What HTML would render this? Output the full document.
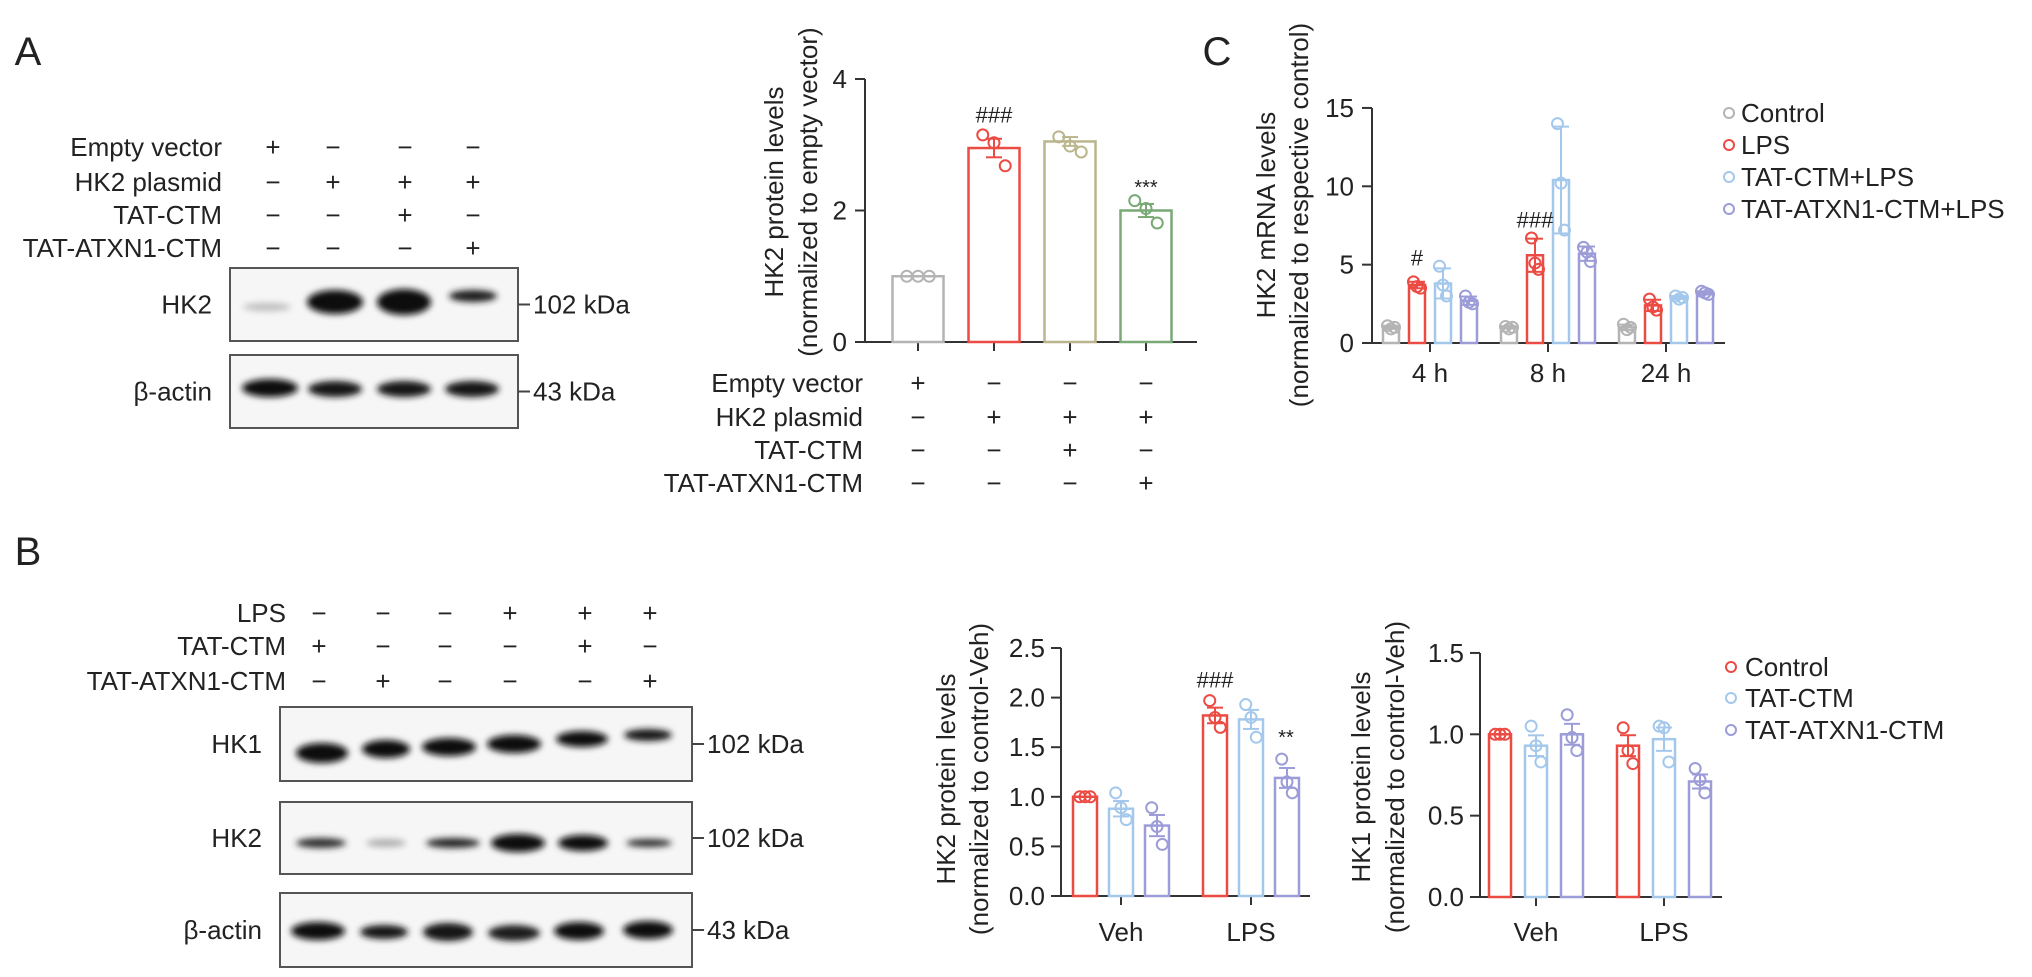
<!DOCTYPE html>
<html><head><meta charset="utf-8"><title>HK2 figure</title>
<style>
html,body{margin:0;padding:0;background:#fff;}
svg{display:block;font-family:"Liberation Sans",Arial,sans-serif;}
text{fill:#222;}
</style></head>
<body>
<svg id="fig" width="2032" height="977" viewBox="0 0 2032 977" xmlns="http://www.w3.org/2000/svg">
<defs>
<filter id="blur" x="-30%" y="-100%" width="160%" height="300%"><feGaussianBlur stdDeviation="3.2"/></filter>
</defs>
</svg>
<script>
// ---------- Panel A data ----------
const aCategories = ["Empty vector", "HK2 plasmid", "HK2+TAT-CTM", "HK2+TAT-ATXN1-CTM"];
const aMeans = [1.0, 2.95, 3.05, 2.0];
const aPoints = [[1.0, 1.0, 1.0], [3.15, 3.03, 2.68], [3.12, 2.98, 2.89], [2.15, 2.03, 1.81]];
const aTicks = [0, 2, 4];
const aColors = ["#b4b4b4", "#ec4b44", "#bab58c", "#79a975"];
// ---------- Panel C data ----------
const cGroups = ["4 h", "8 h", "24 h"];
const cSeries = ["Control", "LPS", "TAT-CTM+LPS", "TAT-ATXN1-CTM+LPS"];
const cControl = [1.0, 1.0, 1.0];
const cLPS = [3.7, 5.6, 2.4];
const cTAT = [3.8, 10.4, 2.9];
const cATXN1 = [2.7, 5.7, 3.2];
const cControlPts = [[1.1, 0.9, 1.0], [1.05, 0.9, 1.0], [1.2, 0.85, 1.0]];
const cLPSPts = [[3.9, 3.6, 3.5], [6.7, 5.1, 4.7], [2.8, 2.3, 2.1]];
const cTATPts = [[4.9, 3.7, 3.0], [14.0, 10.2, 7.2], [3.0, 2.8, 2.9]];
const cATXN1Pts = [[3.0, 2.6, 2.5], [6.1, 5.8, 5.2], [3.3, 3.2, 3.1]];
const cTicks = [0, 5, 10, 15];
const cColors = ["#b4b4b4", "#ec4b44", "#a4c8ec", "#9c9cd8"];
// ---------- Panel B data ----------
const bGroups = ["Veh", "LPS"];
const bSeries = ["Control", "TAT-CTM", "TAT-ATXN1-CTM"];
const hk2Means = [[1.0, 0.88, 0.71], [1.82, 1.78, 1.19]];
const hk2Pts = [[[1.0, 1.0, 1.0], [1.04, 0.89, 0.77], [0.89, 0.70, 0.52]], [[1.97, 1.80, 1.70], [1.93, 1.80, 1.60], [1.38, 1.15, 1.04]]];
const hk2Ticks = ["0.0", "0.5", "1.0", "1.5", "2.0", "2.5"];
const hk1Means = [[1.0, 0.93, 1.0], [0.93, 0.97, 0.71]];
const hk1Pts = [[[1.0, 1.0, 1.0], [1.05, 0.93, 0.83], [1.12, 0.98, 0.90]], [[1.04, 0.90, 0.82], [1.05, 1.04, 0.83], [0.79, 0.72, 0.64]]];
const hk1Ticks = ["0.0", "0.5", "1.0", "1.5"];
const bColors = ["#ec4b44", "#a4c8ec", "#9c9cd8"];

const svg = document.getElementById('fig');
const NS = 'http://www.w3.org/2000/svg';
function mk(tag, attrs, name, parent) {
  const el = document.createElementNS(NS, tag);
  for (const k in attrs) el.setAttribute(k, attrs[k]);
  
  
  (parent || svg).appendChild(el);
  return el;
}
function txt(s, x, y, name, opts) {
  opts = opts || {};
  const el = mk('text', {x: x, y: y, 'font-size': opts.size || 26, 'text-anchor': opts.anchor || 'start', 'dominant-baseline': 'central'}, name, opts.parent);
  if (opts.rot) el.setAttribute('transform', 'rotate(-90 ' + x + ' ' + y + ')');
  if (opts.fill) el.setAttribute('style', 'fill:' + opts.fill);
  el.textContent = s;
  return el;
}
function line(x1, y1, x2, y2, name, color, w, parent) {
  return mk('line', {x1: x1, y1: y1, x2: x2, y2: y2, stroke: color || '#333', 'stroke-width': w || 2}, name, parent);
}
function mean(a) { return a.reduce((s, v) => s + v, 0) / a.length; }
function sd(a) { const m = mean(a); return Math.sqrt(a.reduce((s, v) => s + (v - m) * (v - m), 0) / (a.length - 1)); }
function sem(a) { return sd(a) / Math.sqrt(a.length); }

function drawBar(g, cx, w, v, pts, err, color, yf, name) {
  const y0 = yf(0), yt = yf(v);
  mk('rect', {x: cx - w / 2, y: yt, width: w, height: y0 - yt, fill: '#fff', stroke: color, 'stroke-width': 2.5}, name, g);
  const offs = [-0.22, 0, 0.22];
  pts.forEach((p, i) => {
    mk('circle', {cx: cx + offs[i] * w, cy: yf(p), r: 5.5, fill: 'none', stroke: color, 'stroke-width': 2}, name + '-point', g);
  });
  line(cx, yf(v - err), cx, yf(v + err), name + '-error', color, 2, g);
  line(cx - 8, yf(v + err), cx + 8, yf(v + err), name + '-error-cap', color, 2, g);
  line(cx - 8, yf(v - err), cx + 8, yf(v - err), name + '-error-cap', color, 2, g);
}

// ================= PANEL A =================
txt('A', 28, 52, 'panel-a-label', {size: 40, anchor: 'middle'});
const aRowLabels = ["Empty vector", "HK2 plasmid", "TAT-CTM", "TAT-ATXN1-CTM"];
const aRowSigns = [["+", "−", "−", "−"], ["−", "+", "+", "+"], ["−", "−", "+", "−"], ["−", "−", "−", "+"]];
const aBlotCols = [273, 333, 405, 473];
const aRowY = [147, 182, 215, 248];
aRowLabels.forEach((l, r) => {
  txt(l, 222, aRowY[r], 'blot-a-row-label', {anchor: 'end'});
  aRowSigns[r].forEach((s, c) => txt(s, aBlotCols[c], aRowY[r], 'blot-a-sign', {anchor: 'middle'}));
});
function blot(x, y, w, h, label, kda, bands, name) {
  const g = mk('g', {}, name);
  mk('rect', {x: x, y: y, width: w, height: h, fill: '#f6f6f6', stroke: '#555', 'stroke-width': 2}, name + '-frame', g);
  bands.forEach(b => {
    mk('ellipse', {cx: b[0], cy: b[1], rx: b[2], ry: b[3], fill: 'rgb(' + b[4] + ',' + b[4] + ',' + b[4] + ')', filter: 'url(#blur)'}, name + '-band', g);
  });
  txt(label, x - 18, y + h / 2, name + '-label', {anchor: 'end', parent: g});
  line(x + w, y + h / 2, x + w + 12, y + h / 2, name + '-marker-tick', '#444', 2, g);
  txt(kda, x + w + 15, y + h / 2, name + '-kda', {parent: g});
}
blot(230, 268, 288, 73, 'HK2', '102 kDa', [[267, 307, 24, 4, 190], [335, 302, 28, 12, 10], [404, 302, 27, 13, 10], [473, 296, 24, 6, 30]], 'blot-a-hk2');
blot(230, 355, 288, 73, 'β-actin', '43 kDa', [[270, 388, 28, 9, 15], [335, 389, 27, 8, 25], [404, 389, 27, 8, 25], [472, 389, 27, 8, 25]], 'blot-a-actin');

// Chart A
(function () {
  const g = mk('g', {}, 'chart-a');
  const ax = 865, y0 = 342, ppu = 65.75;
  const yf = v => y0 - v * ppu;
  const xf = i => 918 + i * 76;
  line(ax, yf(4), ax, y0, 'chart-a-y-axis', '#333', 2, g);
  line(ax - 10, y0, 1197, y0, 'chart-a-x-axis', '#333', 2, g);
  aTicks.forEach(t => {
    line(ax - 10, yf(t), ax, yf(t), 'chart-a-y-tick', '#333', 2, g);
    txt(String(t), ax - 18, yf(t), 'chart-a-y-tick-label', {anchor: 'end', parent: g});
  });
  aMeans.forEach((m, i) => {
    line(xf(i), y0, xf(i), y0 + 9, 'chart-a-x-tick', '#333', 2, g);
    drawBar(g, xf(i), 51, m, aPoints[i], sem(aPoints[i]), aColors[i], yf, 'bar-a-' + i);
  });
  txt('###', xf(1), 115, 'chart-a-sig-hash', {anchor: 'middle', size: 22, parent: g});
  txt('***', xf(3), 188, 'chart-a-sig-star', {anchor: 'middle', size: 20, parent: g});
  txt('HK2 protein levels', 774, 192, 'chart-a-y-title', {anchor: 'middle', rot: true, parent: g});
  txt('(normalized to empty vector)', 808, 192, 'chart-a-y-subtitle', {anchor: 'middle', rot: true, parent: g});
  const rows = [383, 417, 450, 483];
  aRowLabels.forEach((l, r) => {
    txt(l, 863, rows[r], 'chart-a-row-label', {anchor: 'end', parent: g});
    aRowSigns[r].forEach((s, c) => txt(s, xf(c), rows[r], 'chart-a-sign', {anchor: 'middle', parent: g}));
  });
})();

// ================= PANEL C =================
txt('C', 1217, 52, 'panel-c-label', {size: 40, anchor: 'middle'});
(function () {
  const g = mk('g', {}, 'chart-c');
  const ax = 1372, y0 = 343, ppu = 15.67;
  const yf = v => y0 - v * ppu;
  const gx = i => 1430 + i * 118;
  const sx = s => (s - 1.5) * 26;
  line(ax, yf(15), ax, y0, 'chart-c-y-axis', '#333', 2, g);
  line(ax - 8, y0, 1725, y0, 'chart-c-x-axis', '#333', 2, g);
  cTicks.forEach(t => {
    line(ax - 10, yf(t), ax, yf(t), 'chart-c-y-tick', '#333', 2, g);
    txt(String(t), ax - 18, yf(t), 'chart-c-y-tick-label', {anchor: 'end', parent: g});
  });
  const means = [cControl, cLPS, cTAT, cATXN1];
  const pts = [cControlPts, cLPSPts, cTATPts, cATXN1Pts];
  cGroups.forEach((grp, i) => {
    line(gx(i), y0, gx(i), y0 + 9, 'chart-c-x-tick', '#333', 2, g);
    txt(grp, gx(i), 373, 'chart-c-x-label', {anchor: 'middle', parent: g});
    means.forEach((m, s) => {
      drawBar(g, gx(i) + sx(s), 16, m[i], pts[s][i], sd(pts[s][i]), cColors[s], yf, 'bar-c-' + i + '-' + s);
    });
  });
  txt('#', gx(0) + sx(1), 258, 'chart-c-sig-4h', {anchor: 'middle', size: 22, parent: g});
  txt('###', gx(1) + sx(1), 220, 'chart-c-sig-8h', {anchor: 'middle', size: 22, parent: g});
  txt('HK2 mRNA levels', 1266, 215, 'chart-c-y-title', {anchor: 'middle', rot: true, parent: g});
  txt('(normalized to respective control)', 1299, 215, 'chart-c-y-subtitle', {anchor: 'middle', rot: true, parent: g});
  const ly = [113, 145, 177, 209];
  cSeries.forEach((s, i) => {
    mk('circle', {cx: 1729, cy: ly[i], r: 5, fill: 'none', stroke: cColors[i], 'stroke-width': 2}, 'legend-c-marker', g);
    txt(s, 1741, ly[i], 'legend-c-entry', {parent: g});
  });
})();

// ================= PANEL B =================
txt('B', 28, 552, 'panel-b-label', {size: 40, anchor: 'middle'});
const bRowLabels = ["LPS", "TAT-CTM", "TAT-ATXN1-CTM"];
const bRowSigns = [["−", "−", "−", "+", "+", "+"], ["+", "−", "−", "−", "+", "−"], ["−", "+", "−", "−", "−", "+"]];
const bCols = [319, 383, 445, 510, 585, 650];
const bRowY = [613, 646, 681];
bRowLabels.forEach((l, r) => {
  txt(l, 286, bRowY[r], 'blot-b-row-label', {anchor: 'end'});
  bRowSigns[r].forEach((s, c) => txt(s, bCols[c], bRowY[r], 'blot-b-sign', {anchor: 'middle'}));
});
blot(280, 707, 412, 74, 'HK1', '102 kDa', [[322, 753, 26, 10, 10], [386, 749, 24, 9, 15], [449, 747, 27, 9, 10], [514, 744, 27, 9, 10], [582, 739, 26, 8, 15], [648, 735, 24, 6, 20]], 'blot-b-hk1');
blot(280, 802, 412, 72, 'HK2', '102 kDa', [[321, 843, 25, 5, 45], [386, 843, 20, 4, 175], [453, 843, 27, 5, 40], [518, 843, 27, 9, 12], [583, 843, 25, 8, 15], [649, 843, 23, 4, 45]], 'blot-b-hk2');
blot(280, 893, 412, 74, 'β-actin', '43 kDa', [[318, 931, 27, 9, 12], [384, 932, 24, 7, 25], [448, 932, 25, 9, 18], [514, 933, 26, 8, 30], [579, 931, 25, 9, 15], [648, 930, 25, 9, 12]], 'blot-b-actin');

function groupedChart(name, ax, y0, ppu, top, xEnd, centers, bw, means, pts, ticks, t1, t2, tx1, tx2, ty) {
  const g = mk('g', {}, name);
  const yf = v => y0 - v * ppu;
  const sx = s => (s - 1) * 36;
  line(ax, yf(top), ax, y0, name + '-y-axis', '#333', 2, g);
  line(ax - 8, y0, xEnd, y0, name + '-x-axis', '#333', 2, g);
  ticks.forEach(t => {
    line(ax - 10, yf(+t), ax, yf(+t), name + '-y-tick', '#333', 2, g);
    txt(t, ax - 16, yf(+t), name + '-y-tick-label', {anchor: 'end', parent: g});
  });
  bGroups.forEach((grp, i) => {
    line(centers[i], y0, centers[i], y0 + 9, name + '-x-tick', '#333', 2, g);
    txt(grp, centers[i], 932, name + '-x-label', {anchor: 'middle', parent: g});
    bSeries.forEach((s, k) => {
      drawBar(g, centers[i] + sx(k), bw, means[i][k], pts[i][k], sem(pts[i][k]), bColors[k], yf, name + '-bar-' + i + '-' + k);
    });
  });
  txt(t1, tx1, ty, name + '-y-title', {anchor: 'middle', rot: true, parent: g});
  txt(t2, tx2, ty, name + '-y-subtitle', {anchor: 'middle', rot: true, parent: g});
  return g;
}
const gHK2 = groupedChart('chart-b-hk2', 1061, 896, 99.2, 2.5, 1310, [1121, 1251], 24, hk2Means, hk2Pts, hk2Ticks,
  'HK2 protein levels', '(normalized to control-Veh)', 946, 979, 779);
txt('###', 1215, 680, 'chart-b-hk2-sig-hash', {anchor: 'middle', size: 22, parent: gHK2});
txt('**', 1286, 738, 'chart-b-hk2-sig-star', {anchor: 'middle', size: 20, parent: gHK2});
const gHK1 = groupedChart('chart-b-hk1', 1480, 897, 162.7, 1.5, 1722, [1536, 1664], 22, hk1Means, hk1Pts, hk1Ticks,
  'HK1 protein levels', '(normalized to control-Veh)', 1361, 1395, 777);
const lyB = [667, 698, 730];
bSeries.forEach((s, i) => {
  mk('circle', {cx: 1731, cy: lyB[i], r: 5, fill: 'none', stroke: bColors[i], 'stroke-width': 2}, 'legend-b-marker', gHK1);
  txt(s, 1745, lyB[i], 'legend-b-entry', {parent: gHK1});
});
</script>
</body></html>
